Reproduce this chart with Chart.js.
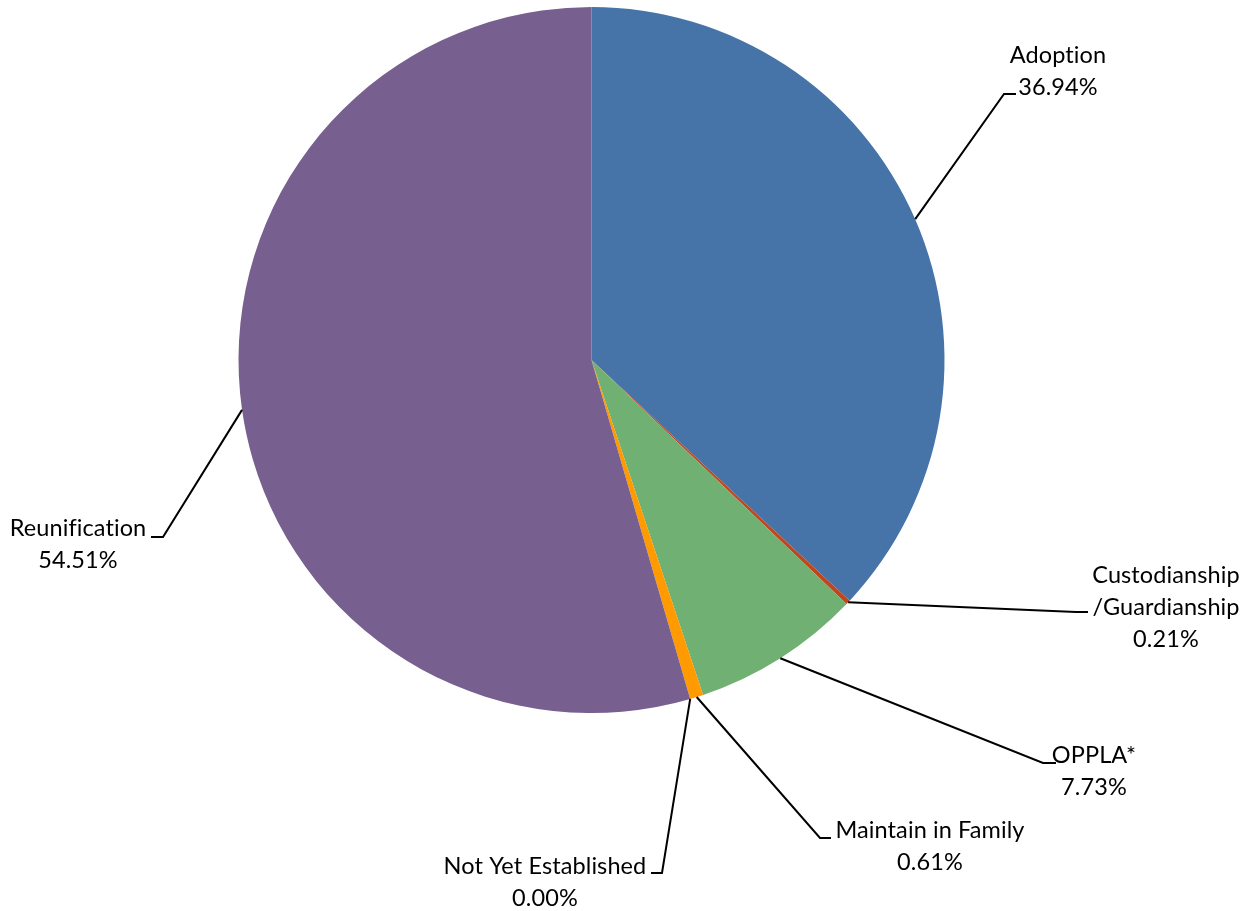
<!DOCTYPE html>
<html>
<head>
<meta charset="utf-8">
<script src="https://cdn.jsdelivr.net/npm/chart.js@4"></script>
<style>
  html, body { margin: 0; padding: 0; background: #fff; }
  #wrap { width: 1257px; height: 911px; }
</style>
</head>
<body>
<div id="wrap"><canvas id="myChart"></canvas></div>
<script>

// DONNEES //

const categories = ['Adoption', 'Custodianship\n/Guardianship', 'OPPLA*', 'Maintain in Family', 'Not Yet Established', 'Reunification'];
const shares = [36.94, 0.21, 7.73, 0.61, 0.00, 54.51];
const sliceColors = ['#4674A8', '#C0461E', '#70B073', '#FF9A00', '#8AA3C9', '#775F8F'];

// label placement: elbow of the leader line, end of the line, text centre
const labelSpots = [
  { elbow: [1004, 94], end: [1016, 94], text: [1058, 55] },
  { elbow: [1076, 612], end: [1088, 612], text: [1166, 575] },
  { elbow: [1043, 763], end: [1056, 763], text: [1094, 755] },
  { elbow: [820, 838], end: [831, 838], text: [930, 830] },
  { elbow: [662, 873], end: [651, 873], text: [545, 866] },
  { elbow: [163, 537], end: [151, 537], text: [78, 528] }
];

const leaderLabels = {
  id: 'leaderLabels',
  afterDatasetsDraw(chart) {
    const c = chart.ctx;
    const arcs = chart.getDatasetMeta(0).data;
    c.save();
    c.font = '23.5px Lato, "Open Sans", sans-serif';
    if ('letterSpacing' in c) c.letterSpacing = '0.1px'; // pas de ligature "ti"
    c.fillStyle = '#000';
    c.strokeStyle = '#000';
    c.lineWidth = 2;
    c.textAlign = 'center';
    c.textBaseline = 'middle';
    arcs.forEach((arc, i) => {
      const mid = (arc.startAngle + arc.endAngle) / 2;
      const sx = arc.x + Math.cos(mid) * arc.outerRadius;
      const sy = arc.y + Math.sin(mid) * arc.outerRadius;
      const spot = labelSpots[i];
      c.beginPath();
      c.moveTo(sx, sy);
      c.lineTo(spot.elbow[0], spot.elbow[1]);
      c.lineTo(spot.end[0], spot.end[1]);
      c.stroke();
      const lines = categories[i].split('\n');
      lines.push(shares[i].toFixed(2) + '%');
      lines.forEach((t, k) => {
        c.fillText(t, spot.text[0], spot.text[1] + k * 32);
      });
    });
    c.restore();
  }
};

const ctx = document.getElementById('myChart');

new Chart(ctx, {
  type: 'pie',
  data: {
    labels: categories,
    datasets: [{
      data: shares,
      backgroundColor: sliceColors,
      borderWidth: 0
    }]
  },
  options: {
    responsive: true,
    maintainAspectRatio: false,
    animation: false,
    plugins: {
      legend: false,
      tooltip: { enabled: false }
    },
    layout: {
      padding: { left: 238, right: 312, top: 7, bottom: 198 }
    }
  },
  plugins: [leaderLabels]
});

</script>
</body>
</html>
